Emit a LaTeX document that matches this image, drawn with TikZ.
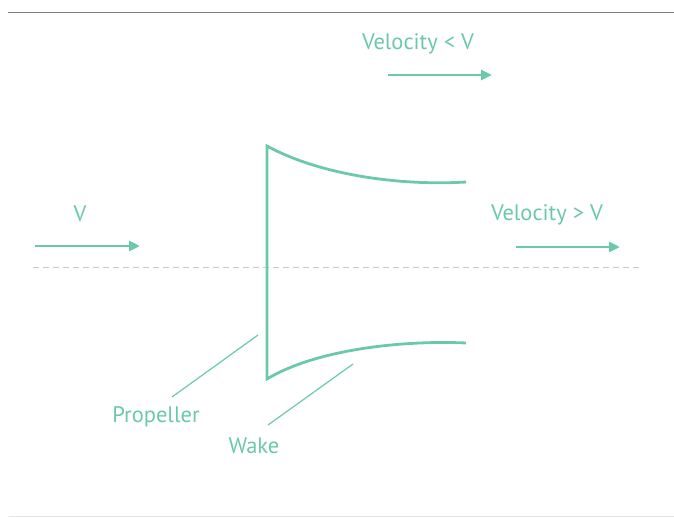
\documentclass[tikz,border=0pt]{standalone}
\usepackage{fontspec}
\setmainfont{PT Sans}
\usetikzlibrary{arrows.meta}
\definecolor{teal}{RGB}{108,200,170}
\definecolor{rulegray}{RGB}{128,128,128}
\definecolor{lightrule}{RGB}{228,228,228}
\definecolor{dashgray}{RGB}{200,200,200}
\tikzset{
  lbl/.style={text=teal, font=\fontsize{22.5}{26}\selectfont, inner sep=0pt},
  flow/.style={draw=teal, line width=2.8pt, -{Triangle[length=11pt,width=10pt]}},
  body/.style={draw=teal, line width=2.8pt, line join=miter},
  leader/.style={draw=teal, line width=1.2pt},
}
\begin{document}
\begin{tikzpicture}[x=1pt,y=-1pt]
\useasboundingbox (0,0) rectangle (674,517);
% frame rules
\coordinate (tl) at (8,12.5); \coordinate (tr) at (674,12.5);
\coordinate (bl) at (9,516); \coordinate (br) at (674,516);
\draw[rulegray, line width=1.5pt] (tl) -- (tr);
\draw[lightrule, line width=1pt] (bl) -- (br);
% centre line
\coordinate (cl) at (33,267); \coordinate (cr) at (640,267);
\draw[dashgray, line width=1pt, dash pattern=on 6pt off 4pt] (cl) -- (cr);
% inflow
\node[lbl] (v) at (80,214) {V};
\coordinate (va) at (35,246); \coordinate (vb) at (140,246);
\draw[flow] (va) -- (vb);
% outer flow
\node[lbl] (vlow) at (418,44) {Velocity < V};
\coordinate (la) at (388,75); \coordinate (lb) at (492,75);
\draw[flow] (la) -- (lb);
% wake flow
\node[lbl] (vhigh) at (547,215) {Velocity > V};
\coordinate (ha) at (516,247); \coordinate (hb) at (620,247);
\draw[flow] (ha) -- (hb);
% propeller and wake
\coordinate (pt) at (267,146); \coordinate (pb) at (267,379);
\coordinate (wt) at (466,182); \coordinate (wb) at (466,343);
\draw[body] (wt) .. controls (400,186) and (320,175) .. (pt) -- (pb)
  .. controls (315,350) and (400,340) .. (wb);
% labels with leaders
\node[lbl] (prop) at (156,417) {Propeller};
\coordinate (pa) at (258,335); \coordinate (pz) at (172,397);
\draw[leader] (pa) -- (pz);
\node[lbl] (wake) at (254,446) {Wake};
\coordinate (wa) at (353,364); \coordinate (wz) at (268,425);
\draw[leader] (wa) -- (wz);
\end{tikzpicture}
\end{document}
